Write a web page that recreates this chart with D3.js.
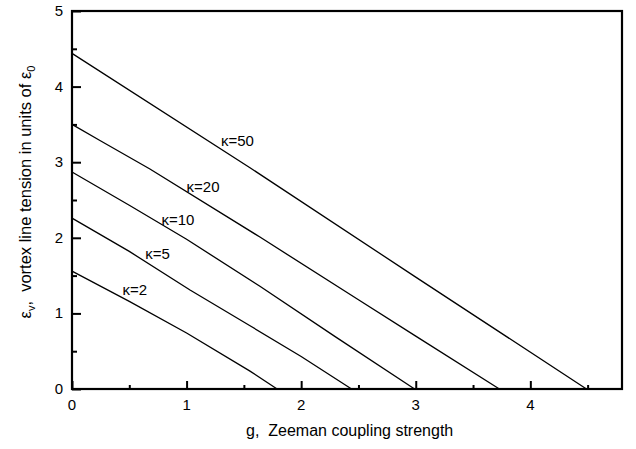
<!DOCTYPE html>
<html>
<head>
<meta charset="utf-8">
<script src="https://cdn.jsdelivr.net/npm/d3@7"></script>
<style>
  html, body { margin: 0; padding: 0; background: #fff; }
  svg { display: block; font-family: "Liberation Sans", Arial, Helvetica, sans-serif; }
</style>
</head>
<body>
<div id="chart"></div>
<script>
// Vortex line tension vs Zeeman coupling, one curve per kappa
const kappas = [50, 20, 10, 5, 2]

const curve50 = [[0, 4.44], [1.56, 2.92], [3, 1.48], [4.49, 0]]
const curve20 = [[0, 3.50], [0.24, 3.29], [0.68, 2.91], [1.64, 2.01], [2.5, 1.18], [3, 0.70], [3.73, 0]]
const curve10 = [[0, 2.87], [0.5, 2.43], [1, 1.98], [1.64, 1.36], [2.3, 0.69], [2.99, 0]]
const curve5 = [[0, 2.26], [0.5, 1.82], [1.03, 1.31], [1.55, 0.84], [2, 0.43], [2.44, 0]]
const curve2 = [[0, 1.56], [0.5, 1.16], [1, 0.74], [1.55, 0.24], [1.79, 0]]
const curves = [curve50, curve20, curve10, curve5, curve2]

// where each kappa label sits (data coords, start of text / baseline)
const labelAt = [[1.30, 3.21], [1.00, 2.61], [0.78, 2.17], [0.64, 1.72], [0.44, 1.24]]

const xMajor = [0, 1, 2, 3, 4]
const xMinor = [0.5, 1.5, 2.5, 3.5, 4.5]
const yMajor = [0, 1, 2, 3, 4, 5]
const yMinor = [0.5, 1.5, 2.5, 3.5, 4.5]

const width = 636
const height = 449
const margin = { top: 11, right: 14, bottom: 60, left: 72 }

const x = d3.scaleLinear().domain([0, 4.8]).range([margin.left, width - margin.right])
const y = d3.scaleLinear().domain([0, 5]).range([height - margin.bottom, margin.top])

const svg = d3.select('#chart')
  .append('svg')
  .attr('width', width)
  .attr('height', height)

// Curves
const line = d3.line()
  .x(d => x(d[0]))
  .y(d => y(d[1]))

svg.selectAll('.curve')
  .data(curves)
  .join('path')
  .attr('class', 'curve')
  .attr('fill', 'none')
  .attr('stroke', '#000')
  .attr('stroke-width', 1.3)
  .attr('d', line)

// Kappa labels
svg.selectAll('.klabel')
  .data(kappas)
  .join('text')
  .attr('class', 'klabel')
  .attr('x', (d, i) => x(labelAt[i][0]))
  .attr('y', (d, i) => y(labelAt[i][1]))
  .attr('font-size', '15px')
  .attr('fill', '#000')
  .text(d => `\u03ba=${d}`)

// Axes: ticks point inward
const xAxisMajor = d3.axisTop(x).tickValues(xMajor).tickSize(8).tickFormat('')
const xAxisMinor = d3.axisTop(x).tickValues(xMinor).tickSize(4).tickFormat('')
const yAxisMajor = d3.axisRight(y).tickValues(yMajor).tickSize(9).tickFormat('')
const yAxisMinor = d3.axisRight(y).tickValues(yMinor).tickSize(5).tickFormat('')

const bottomY = y(0)
const leftX = x(0)

for (const ax of [xAxisMajor, xAxisMinor]) {
  svg.append('g')
    .attr('transform', `translate(0,${bottomY})`)
    .call(ax)
    .call(g => g.select('.domain').remove())
    .call(g => g.selectAll('line').attr('stroke', '#000').attr('stroke-width', 2))
}
for (const ax of [yAxisMajor, yAxisMinor]) {
  svg.append('g')
    .attr('transform', `translate(${leftX},0)`)
    .call(ax)
    .call(g => g.select('.domain').remove())
    .call(g => g.selectAll('line').attr('stroke', '#000').attr('stroke-width', 2))
}

// Frame
svg.append('rect')
  .attr('x', x.range()[0])
  .attr('y', y.range()[1])
  .attr('width', x.range()[1] - x.range()[0])
  .attr('height', y.range()[0] - y.range()[1])
  .attr('fill', 'none')
  .attr('stroke', '#000')
  .attr('stroke-width', 2.2)

// Tick labels
svg.selectAll('.xtl')
  .data(xMajor)
  .join('text')
  .attr('class', 'xtl')
  .attr('x', d => x(d))
  .attr('y', bottomY + 21)
  .attr('text-anchor', 'middle')
  .attr('font-size', '15px')
  .text(d => d)

svg.selectAll('.ytl')
  .data(yMajor)
  .join('text')
  .attr('class', 'ytl')
  .attr('x', leftX - 9)
  .attr('y', d => y(d) + 5)
  .attr('text-anchor', 'end')
  .attr('font-size', '15px')
  .text(d => d)

// Axis titles
svg.append('text')
  .attr('x', 246)
  .attr('y', 436)
  .attr('font-size', '16px')
  .text('g,\u00a0\u00a0Zeeman coupling strength')

const yt = svg.append('text')
  .attr('transform', 'translate(31,192) rotate(-90)')
  .attr('text-anchor', 'middle')
  .attr('font-size', '16.5px')
yt.append('tspan').text('\u03b5')
yt.append('tspan').attr('font-size', '11px').attr('dy', 4).text('v')
yt.append('tspan').attr('dy', -4).text(',\u00a0\u00a0vortex line tension in units of \u03b5')
yt.append('tspan').attr('font-size', '11px').attr('dy', 4).text('0')
</script>
</body>
</html>
